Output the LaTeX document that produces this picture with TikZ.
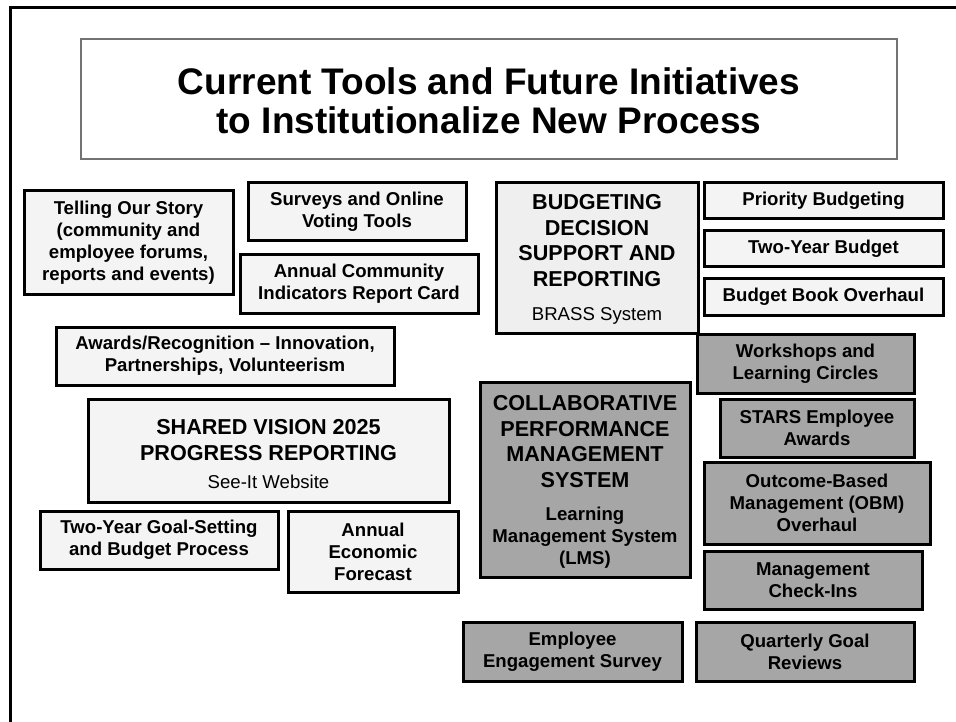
\documentclass[tikz,border=0pt]{standalone}
\usepackage{fontspec}
\setmainfont{Liberation Sans}

\definecolor{paleface}{HTML}{F4F4F4}
\definecolor{budgetface}{HTML}{EFEFEF}
\definecolor{shadeface}{HTML}{A6A6A6}

\newcommand{\itemfont}{\fontsize{18.6}{22}\selectfont\bfseries}
\newcommand{\headfont}{\fontsize{21.6}{25.7}\selectfont\bfseries}
\newcommand{\subfont}{\fontsize{18.6}{22}\selectfont}

\tikzset{
    tool/.style={draw, line width=3pt, fill=paleface, align=center, inner sep=0pt, font=\itemfont},
    initiative/.style={tool, fill=shadeface},
}

\begin{document}
\begin{tikzpicture}[x=1pt,y=-1pt]
    \useasboundingbox (0,0) rectangle (956,722);

    % Frame
    \draw[line width=3pt] (10,722) -- (10,8) -- (956,8);

    % Title
    \node[draw=black!55, line width=1.5pt, fill=white, minimum width=816pt, minimum height=120pt] (title) at (489,99) {};
    \node[align=center, font=\fontsize{37}{39}\selectfont\bfseries] (title-text) at (489,101)
        {Current Tools and Future Initiatives\\to Institutionalize New Process};

    % Current tools
    \node[tool, minimum width=209pt, minimum height=103pt] (story) at (128.5,242.5)
        {Telling Our Story\\(community and\\employee forums,\\reports and events)};
    \node[tool, minimum width=218pt, minimum height=58pt] (surveys) at (357,212)
        {Surveys and Online\\Voting Tools};
    \node[tool, minimum width=238pt, minimum height=58pt] (indicators) at (359,284)
        {Annual Community\\Indicators Report Card};
    \node[tool, minimum width=338pt, minimum height=58pt] (awards) at (225,356)
        {Awards/Recognition – Innovation,\\Partnerships, Volunteerism};

    \node[tool, minimum width=361pt, minimum height=103pt] (vision) at (268.5,450.5) {};
    \node[align=center, font=\headfont] (vision-head) at (268.5,440)
        {SHARED VISION 2025\\PROGRESS REPORTING};
    \node[font=\subfont] (vision-sub) at (268.5,482) {See-It Website};

    \node[tool, minimum width=238pt, minimum height=58pt] (goalset) at (159,540)
        {Two-Year Goal-Setting\\and Budget Process};
    \node[tool, minimum width=170pt, minimum height=81pt] (forecast) at (373,551.5)
        {Annual\\Economic\\Forecast};

    \node[tool, fill=budgetface, minimum width=202pt, minimum height=150pt] (budget) at (597,258) {};
    \node[align=center, font=\headfont] (budget-head) at (597,240.5)
        {BUDGETING\\DECISION\\SUPPORT AND\\REPORTING};
    \node[font=\subfont] (budget-sub) at (597,316) {BRASS System};

    \node[tool, minimum width=239pt, minimum height=36pt] (priority) at (823.5,201) {Priority Budgeting};
    \node[tool, minimum width=239pt, minimum height=36pt] (twoyear) at (823.5,249) {Two-Year Budget};
    \node[tool, minimum width=239pt, minimum height=37pt] (bookover) at (823.5,296.5) {Budget Book Overhaul};

    % Future initiatives
    \node[initiative, minimum width=210pt, minimum height=195pt] (cpms) at (585,479.5) {};
    \node[align=center, font=\headfont] (cpms-head) at (585,441.5)
        {COLLABORATIVE\\PERFORMANCE\\MANAGEMENT\\SYSTEM};
    \node[align=center, font=\itemfont] (cpms-sub) at (585,538)
        {Learning\\Management System\\(LMS)};

    \node[initiative, minimum width=217pt, minimum height=59pt] (workshops) at (805.5,363.5)
        {Workshops and\\Learning Circles};
    \node[initiative, minimum width=194pt, minimum height=58pt] (stars) at (817,428)
        {STARS Employee\\Awards};
    \node[initiative, minimum width=226pt, minimum height=82pt] (obm) at (817,503)
        {Outcome-Based\\Management (OBM)\\Overhaul};
    \node[initiative, minimum width=218pt, minimum height=58pt] (checkins) at (813,580)
        {Management\\Check-Ins};
    \node[initiative, minimum width=219pt, minimum height=59pt] (engagement) at (572.5,651.5)
        {Employee\\Engagement Survey};
    \node[initiative, minimum width=218pt, minimum height=59pt] (quarterly) at (805,651.5)
        {Quarterly Goal\\Reviews};

\end{tikzpicture}
\end{document}
